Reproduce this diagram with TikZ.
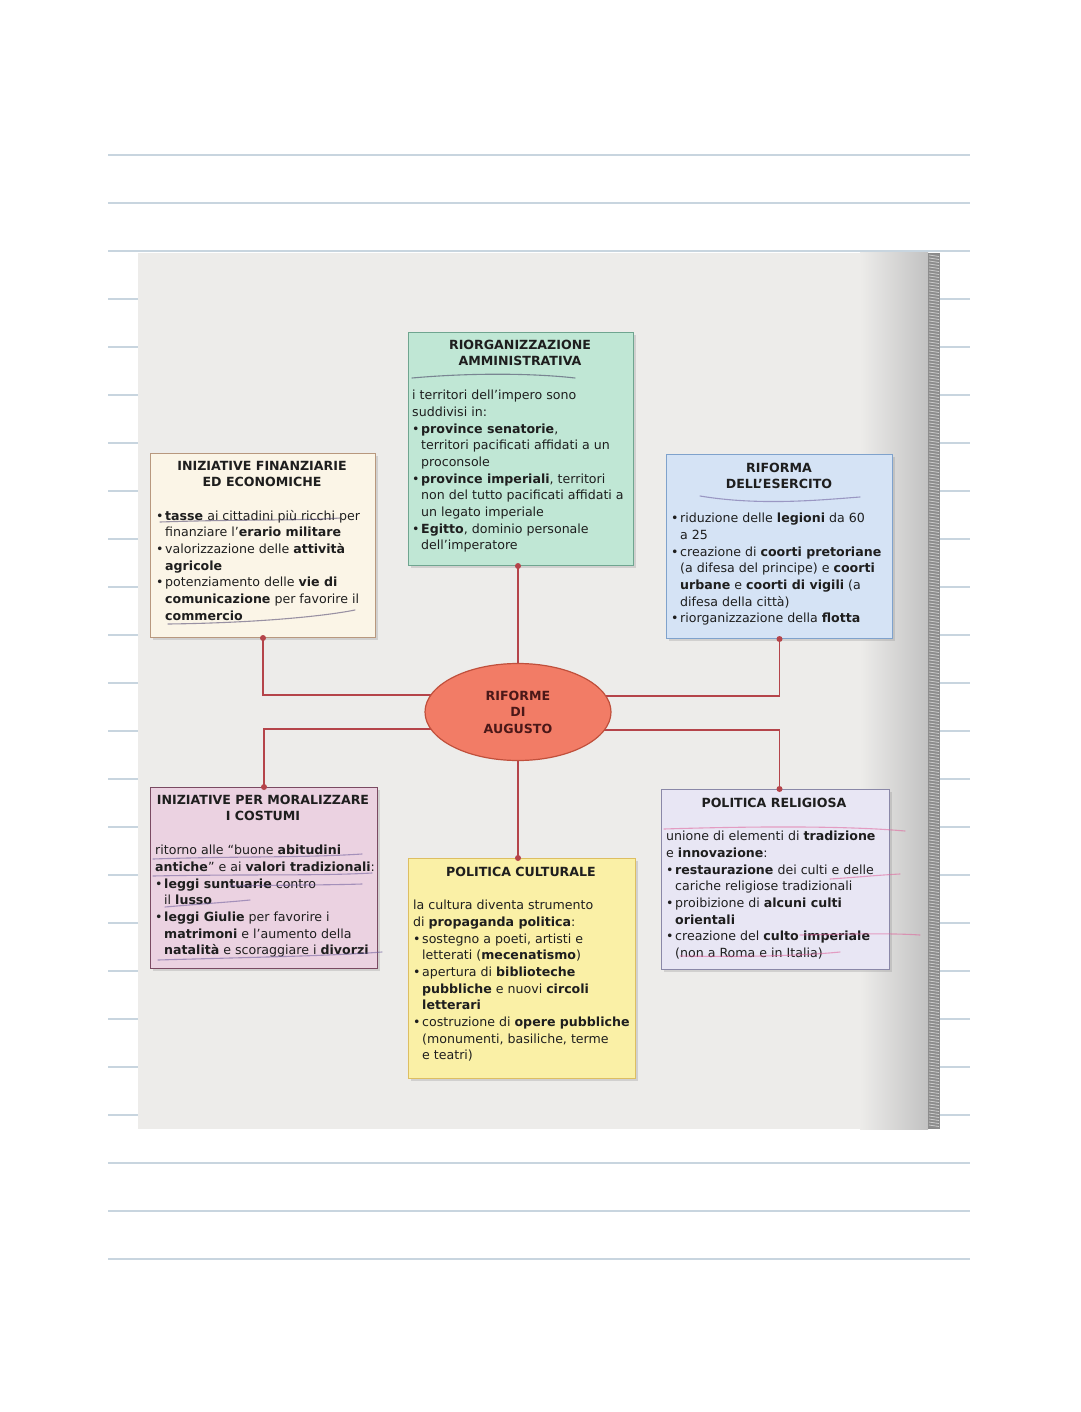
\documentclass[tikz,border=0pt]{standalone}
\usepackage{fontspec}
\setmainfont{DejaVu Sans}
\usetikzlibrary{shapes.geometric,shadows,calc}
\pgfdeclarelayer{paper}
\pgfdeclarelayer{links}
\pgfsetlayers{paper,links,main}
\definecolor{rule}{HTML}{C8D5DF}
\definecolor{photo}{HTML}{EDECEA}
\definecolor{ink}{HTML}{1E1E1E}
\definecolor{linkc}{HTML}{B5444A}
\definecolor{finF}{HTML}{FBF5E7}\definecolor{finD}{HTML}{B8987E}
\definecolor{admF}{HTML}{C0E7D5}\definecolor{admD}{HTML}{6FA590}
\definecolor{armF}{HTML}{D5E3F5}\definecolor{armD}{HTML}{7FA2CC}
\definecolor{morF}{HTML}{EBD2E1}\definecolor{morD}{HTML}{7A4A62}
\definecolor{culF}{HTML}{FAF0A6}\definecolor{culD}{HTML}{DDBE62}
\definecolor{relF}{HTML}{E8E6F4}\definecolor{relD}{HTML}{8A88A8}
\definecolor{augF}{HTML}{F27C66}\definecolor{augD}{HTML}{C0503C}
\definecolor{penP}{HTML}{6A5A9A}
\definecolor{penR}{HTML}{E0609A}
\newcommand\myb{\makebox[9pt][l]{•}}
\newcommand\myi{\hspace*{9pt}}
\tikzset{
  box/.style={rectangle, anchor=north west, inner sep=0pt, line width=1pt,
    drop shadow={shadow xshift=2pt, shadow yshift=-2pt, opacity=0.25}},
  ttl/.style={align=center, inner sep=0pt, text=ink,
    font=\bfseries\fontsize{12.6}{16}\selectfont},
  body/.style={align=left, inner sep=0pt, anchor=north west, text=ink,
    font=\fontsize{12.6}{16.67}\selectfont},
  link/.style={draw=linkc, line width=1.4pt},
  dot/.style={fill=linkc},
  pen/.style={line width=1.1pt, opacity=0.55, line cap=round},
}
\begin{document}
\begin{tikzpicture}[x=1pt,y=-1pt]
\useasboundingbox (0,0) rectangle (1080,1412);
\begin{pgfonlayer}{paper}
  \fill[white] (0,0) rectangle (1080,1412);
  \foreach \k in {0,...,23} {
    \draw[rule, line width=1.2pt] (108,155+48*\k) -- (970,155+48*\k);
  }
  \fill[photo] (138,253) rectangle (940,1129);
  \shade[left color=photo, right color=black!24] (860,253) rectangle (928,1129);
  \fill[black!45] (928,253) rectangle (940,1129);
  \foreach \yy in {255,258,...,1127} {
    \draw[black!20, line width=0.8pt] (929,\yy) -- (939,\yy+1.5);
  }
\end{pgfonlayer}

% boxes
\node[box, fill=finF, draw=finD, minimum width=225pt, minimum height=184pt] (fin) at (150,453) {};
\node[box, fill=admF, draw=admD, minimum width=225pt, minimum height=233pt] (adm) at (408,332) {};
\node[box, fill=armF, draw=armD, minimum width=226pt, minimum height=184pt] (ars) at (666,454) {};
\node[box, fill=morF, draw=morD, minimum width=227pt, minimum height=181pt] (mor) at (150,787) {};
\node[box, fill=culF, draw=culD, minimum width=227pt, minimum height=220pt] (cul) at (408,858) {};
\node[box, fill=relF, draw=relD, minimum width=228pt, minimum height=180pt] (rel) at (661,789) {};

\node[ellipse, fill=augF, draw=augD, line width=1.2pt, minimum width=186pt, minimum height=97pt,
  align=center, text=ink!80!red, font=\bfseries\fontsize{12.6}{16.5}\selectfont] (aug) at (518,712) {RIFORME\\DI\\AUGUSTO};

% connectors
\begin{pgfonlayer}{links}
  \draw[link] (fin.south) |- ($(aug.center)+(0,-17)$);
  \draw[link] (mor.north) |- ($(aug.center)+(0,17)$);
  \draw[link] (ars.south) |- ($(aug.center)+(0,-16)$);
  \draw[link] (ars.south |- rel.north) |- ($(aug.center)+(0,18)$);
  \draw[link] (aug.center |- adm.south) -- (aug.north);
  \draw[link] (aug.south) -- (aug.south |- cul.north);
\end{pgfonlayer}
\fill[dot] (fin.south) circle (3pt);
\fill[dot] (mor.north) circle (3pt);
\fill[dot] (ars.south) circle (3pt);
\fill[dot] (ars.south |- rel.north) circle (3pt);
\fill[dot] (aug.center |- adm.south) circle (3pt);
\fill[dot] (aug.south |- cul.north) circle (3pt);

% texts
\node[ttl, anchor=north] (fint) at (262,461) {INIZIATIVE FINANZIARIE\\ED ECONOMICHE};
\node[body] (finb) at (156,510) {\myb\textbf{tasse} ai cittadini più ricchi per\\
\myi finanziare l’\textbf{erario militare}\\
\myb valorizzazione delle \textbf{attività}\\
\myi\textbf{agricole}\\
\myb potenziamento delle \textbf{vie di}\\
\myi\textbf{comunicazione} per favorire il\\
\myi\textbf{commercio}};

\node[ttl, anchor=north] (admt) at (520,340) {RIORGANIZZAZIONE\\AMMINISTRATIVA};
\node[body] (admb) at (412,390) {i territori dell’impero sono\\
suddivisi in:\\
\myb\textbf{province senatorie},\\
\myi territori pacificati affidati a un\\
\myi proconsole\\
\myb\textbf{province imperiali}, territori\\
\myi non del tutto pacificati affidati a\\
\myi un legato imperiale\\
\myb\textbf{Egitto}, dominio personale\\
\myi dell’imperatore};

\node[ttl, anchor=north] (arst) at (779,463) {RIFORMA\\DELL’ESERCITO};
\node[body] (arsb) at (671,513) {\myb riduzione delle \textbf{legioni} da 60\\
\myi a 25\\
\myb creazione di \textbf{coorti pretoriane}\\
\myi (a difesa del principe) e \textbf{coorti}\\
\myi\textbf{urbane} e \textbf{coorti di vigili} (a\\
\myi difesa della città)\\
\myb riorganizzazione della \textbf{flotta}};

\node[ttl, anchor=north] (mort) at (263,795) {INIZIATIVE PER MORALIZZARE\\I COSTUMI};
\node[body] (morb) at (155,845) {ritorno alle “buone \textbf{abitudini}\\
\textbf{antiche}” e ai \textbf{valori tradizionali}:\\
\myb\textbf{leggi suntuarie} contro\\
\myi il \textbf{lusso}\\
\myb\textbf{leggi Giulie} per favorire i\\
\myi\textbf{matrimoni} e l’aumento della\\
\myi\textbf{natalità} e scoraggiare i \textbf{divorzi}};

\node[ttl, anchor=north] (cult) at (521,867) {POLITICA CULTURALE};
\node[body] (culb) at (413,900) {la cultura diventa strumento\\
di \textbf{propaganda politica}:\\
\myb sostegno a poeti, artisti e\\
\myi letterati (\textbf{mecenatismo})\\
\myb apertura di \textbf{biblioteche}\\
\myi\textbf{pubbliche} e nuovi \textbf{circoli}\\
\myi\textbf{letterari}\\
\myb costruzione di \textbf{opere pubbliche}\\
\myi (monumenti, basiliche, terme\\
\myi e teatri)};

\node[ttl, anchor=north] (relt) at (774,798) {POLITICA RELIGIOSA};
\node[body] (relb) at (666,831) {unione di elementi di \textbf{tradizione}\\
e \textbf{innovazione}:\\
\myb\textbf{restaurazione} dei culti e delle\\
\myi cariche religiose tradizionali\\
\myb proibizione di \textbf{alcuni culti}\\
\myi\textbf{orientali}\\
\myb creazione del \textbf{culto imperiale}\\
\myi (non a Roma e in Italia)};

% pen strokes
\draw[pen, penP!70!black] (160,522) .. controls (250,519) and (300,521) .. (340,518);
\draw[pen, penP!70!black] (168,624) .. controls (250,623) and (320,617) .. (355,610);
\draw[pen, penP!60!black] (412,378) .. controls (480,372) and (540,374) .. (575,378);
\draw[pen, penP] (700,496) .. controls (760,506) and (820,500) .. (860,497);
\draw[pen, penP] (153,859) .. controls (240,856) and (300,858) .. (362,854);
\draw[pen, penP] (153,876) .. controls (250,874) and (320,876) .. (372,873);
\draw[pen, penP] (230,886) .. controls (290,885) and (330,885) .. (362,884);
\draw[pen, penP] (165,907) .. controls (200,904) and (230,902) .. (250,900);
\draw[pen, penP] (158,960) .. controls (260,957) and (330,956) .. (382,952);
\draw[pen, penR] (664,829) .. controls (760,826) and (850,826) .. (905,831);
\draw[pen, penR] (830,879) .. controls (860,877) and (880,875) .. (900,874);
\draw[pen, penR] (800,935) .. controls (850,934) and (890,933) .. (920,935);
\draw[pen, penR] (680,956) .. controls (740,957) and (800,956) .. (840,952);
\end{tikzpicture}
\end{document}
